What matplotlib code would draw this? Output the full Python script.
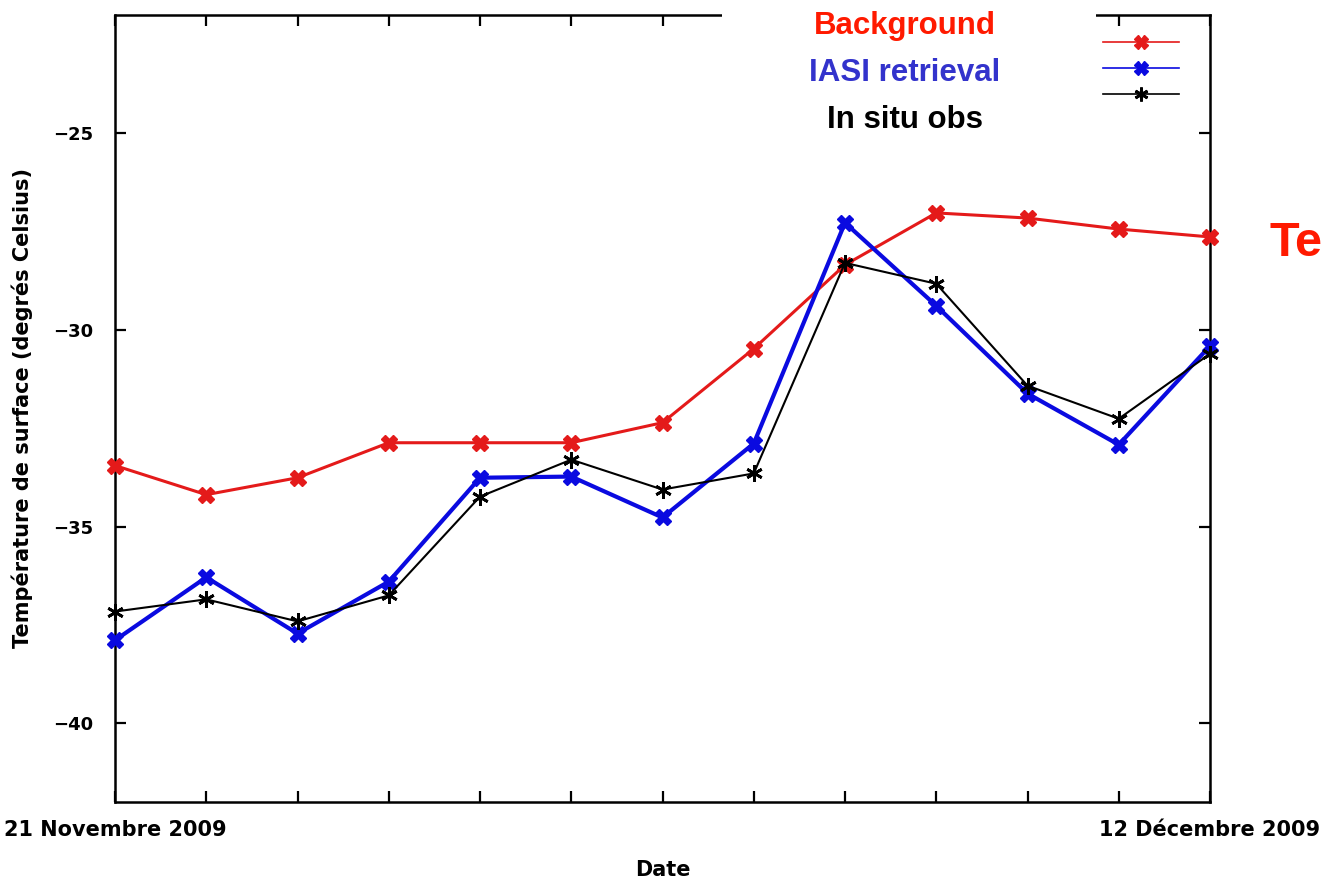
import matplotlib
matplotlib.use("Agg")
import matplotlib.pyplot as plt
from matplotlib.patches import Rectangle

days = list(range(13))
xtick_labels = ["21 Novembre 2009"] + [""] * 11 + ["12 Décembre 2009"]
background = [-33.45, -34.19, -33.76, -32.87, -32.87, -32.87, -32.36,
              -30.48, -28.35, -27.03, -27.16, -27.44, -27.64]
iasi = [-37.89, -36.29, -37.72, -36.40, -33.76, -33.73, -34.77,
        -32.89, -27.28, -29.39, -31.62, -32.92, -30.41]
insitu = [-37.16, -36.85, -37.41, -36.75, -34.24, -33.30, -34.06,
          -33.65, -28.30, -28.83, -31.42, -32.26, -30.61]
series_names = ["Background", "IASI retrieval", "In situ obs"]
yticks = [-25, -30, -35, -40]

W, H = 1324, 882
fig = plt.figure(figsize=(W / 100, H / 100), dpi=100)
ax = fig.add_axes([115 / W, 1 - 802 / H, (1210 - 115) / W, (802 - 15) / H])

red = "#e41a1a"
blue = "#0a0ae0"
black = "#000000"

l1, = ax.plot(days, background, color=red, lw=2.2, marker="X", ms=11,
              mec=red, mfc=red, clip_on=False, zorder=3)
l2, = ax.plot(days, iasi, color=blue, lw=3.0, marker="X", ms=11,
              mec=blue, mfc=blue, clip_on=False, zorder=4)
l3, = ax.plot(days, insitu, color=black, lw=1.5, marker=(6, 2, 0), ms=12,
              mew=2, mec=black, clip_on=False, zorder=5)

ax.set_xlim(0, 12)
ax.set_ylim(-42, -22)
ax.set_xticks(days)
ax.set_xticklabels(xtick_labels, fontsize=15, fontweight="bold")
ax.set_yticks(yticks)
ax.set_yticklabels([f"\u2212{abs(v)}" for v in yticks], fontsize=13, fontweight="bold")
ax.tick_params(direction="in", length=8, width=1.6, top=True, right=True)
ax.tick_params(axis="y", pad=16)
ax.tick_params(axis="x", pad=13)
for s in ax.spines.values():
    s.set_linewidth(1.8)

ax.set_ylabel("Température de surface (degrés Celsius)", fontsize=15,
              fontweight="bold", labelpad=14)
ax.set_xlabel("Date", fontsize=15, fontweight="bold", labelpad=14)

# white area over the top frame where the legend sits
fig.patches.append(Rectangle((722 / W, 1 - 30 / H), (1096 - 722) / W, 30 / H,
                             transform=fig.transFigure, facecolor="white",
                             edgecolor="none", zorder=1))

leg = ax.legend([l1, l2, l3], ["", "", ""], loc="upper left",
                bbox_to_anchor=((1103 - 115) / (1210 - 115), 1 - 19 / 787),
                frameon=False, handlelength=4.2, fontsize=13,
                labelspacing=0.45, borderaxespad=0, borderpad=0,
                handletextpad=0)
for h in leg.legend_handles:
    h.set_markersize(10)
    h.set_linewidth(1.2)

fc = "Liberation Sans"
fig.text(905 / W, 1 - 26 / H, "Background", color="#ff1a00", fontsize=22.5,
         fontweight="bold", ha="center", va="center", family=fc, zorder=6)
fig.text(905 / W, 1 - 73 / H, "IASI retrieval", color="#3333cc", fontsize=22.5,
         fontweight="bold", ha="center", va="center", family=fc, zorder=6)
fig.text(905 / W, 1 - 120 / H, "In situ obs", color="black", fontsize=22.5,
         fontweight="bold", ha="center", va="center", family=fc, zorder=6)
fig.text(1269 / W, 1 - 244 / H, "Te", color="#ff1a00", fontsize=35,
         fontweight="bold", ha="left", va="center", family=fc)

fig.savefig("out.png", dpi=100)
